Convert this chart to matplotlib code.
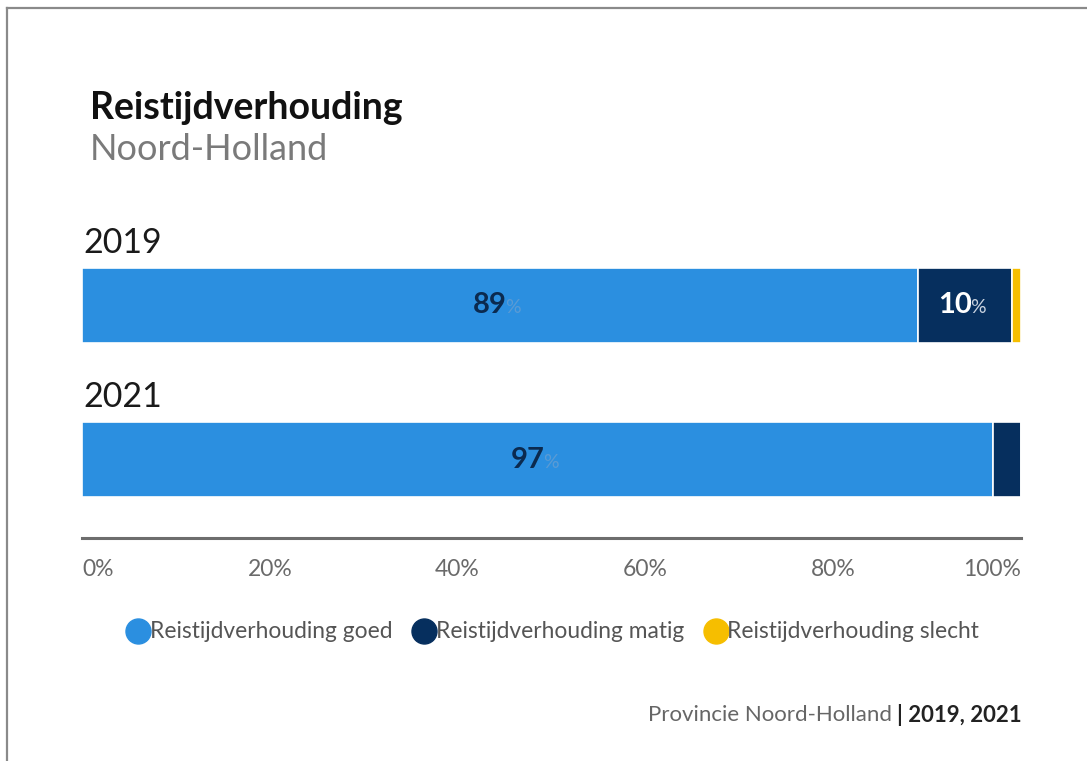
import matplotlib.pyplot as plt
from matplotlib.lines import Line2D

plt.rcParams['font.family'] = ['Lato', 'DejaVu Sans']

# data
jaren = ['2019', '2021']
goed = [89, 97]
matig = [10, 3]
slecht = [1, 0]
reeksen = ['Reistijdverhouding goed', 'Reistijdverhouding matig', 'Reistijdverhouding slecht']
kleuren = ['#2B8FE0', '#062F5E', '#F6BE00']
ticks = [0, 20, 40, 60, 80, 100]

W, H = 1087, 761
fig = plt.figure(figsize=(W / 100, H / 100), dpi=100)
fig.patch.set_facecolor('white')

# screenshot frame
fig.add_artist(Line2D([7 / W, 1], [1 - 8 / H, 1 - 8 / H], color='#8a8a8a', lw=1.6))
fig.add_artist(Line2D([7 / W, 7 / W], [0, 1 - 8 / H], color='#8a8a8a', lw=1.6))

# axes placed in pixels
x0, x1 = 82, 1021
ybot = 538
span = 154.5
ax = fig.add_axes([x0 / W, (H - ybot) / H, (x1 - x0) / W, 2.005 * span / H])
ax.set_xlim(0, 100)
ax.set_ylim(1.505, -0.5)

pos = list(range(len(jaren)))
h = 75 / span
left = [0] * len(jaren)
for waarden, kleur in zip([goed, matig, slecht], kleuren):
    ax.barh(pos, waarden, left=left, height=h, color=kleur,
            edgecolor='white', linewidth=1.2)
    for i, v in enumerate(waarden):
        if v >= 5:
            c = left[i] + v / 2
            numkleur = '#0B2A4F' if kleur == kleuren[0] else 'white'
            pctkleur = '#5a9bd5' if kleur == kleuren[0] else '#c9d3e0'
            ax.annotate(str(v), (c, i), xytext=(5, 0), textcoords='offset points',
                        ha='right', va='center', fontsize=21, fontweight='bold', color=numkleur)
            ax.annotate('%', (c, i), xytext=(4, -1.5), textcoords='offset points',
                        ha='left', va='center', fontsize=14, color=pctkleur)
    left = [l + v for l, v in zip(left, waarden)]

for i, jaar in enumerate(jaren):
    ax.annotate(jaar, (0, i - h / 2), xytext=(1, 18), textcoords='offset points',
                ha='left', va='center', fontsize=24.5, color='#1a1a1a')

for s in ['top', 'right', 'left']:
    ax.spines[s].set_visible(False)
ax.spines['bottom'].set_color('#6d6d6d')
ax.spines['bottom'].set_linewidth(2.2)
ax.set_yticks([])
ax.set_xticks(ticks)
ax.set_xticklabels([f'{t}%' for t in ticks], fontsize=16.5, color='#6a6a6a')
ax.tick_params(axis='x', length=0, pad=15)
lbls = ax.get_xticklabels()
lbls[0].set_ha('left')
lbls[-1].set_ha('right')

# title
fig.text(90 / W, 1 - 108 / H, 'Reistijdverhouding', fontsize=27, fontweight='bold',
         color='#111111', va='center', ha='left')
fig.text(90 / W, 1 - 149 / H, 'Noord-Holland', fontsize=26, color='#7a7a7a',
         va='center', ha='left')

# legend
handles = [Line2D([], [], marker='o', linestyle='none', markersize=18,
                  markerfacecolor=k, markeredgecolor=k) for k in kleuren]
leg = fig.legend(handles, reeksen, loc='center', bbox_to_anchor=(553 / W, 1 - 632 / H),
                 ncol=3, frameon=False, fontsize=16.4, handletextpad=0.0,
                 columnspacing=0.9, handlelength=1.0)
for t in leg.get_texts():
    t.set_color('#555555')

# source
bron = fig.text(1022 / W, 1 - 715 / H, '| 2019, 2021', fontsize=16, fontweight='bold',
                color='#222222', ha='right', va='center')
ax.annotate('Provincie Noord-Holland ', xy=(0, 0.5), xycoords=bron,
            ha='right', va='center', fontsize=16, color='#666666', annotation_clip=False)

fig.savefig('out.png', dpi=100)
